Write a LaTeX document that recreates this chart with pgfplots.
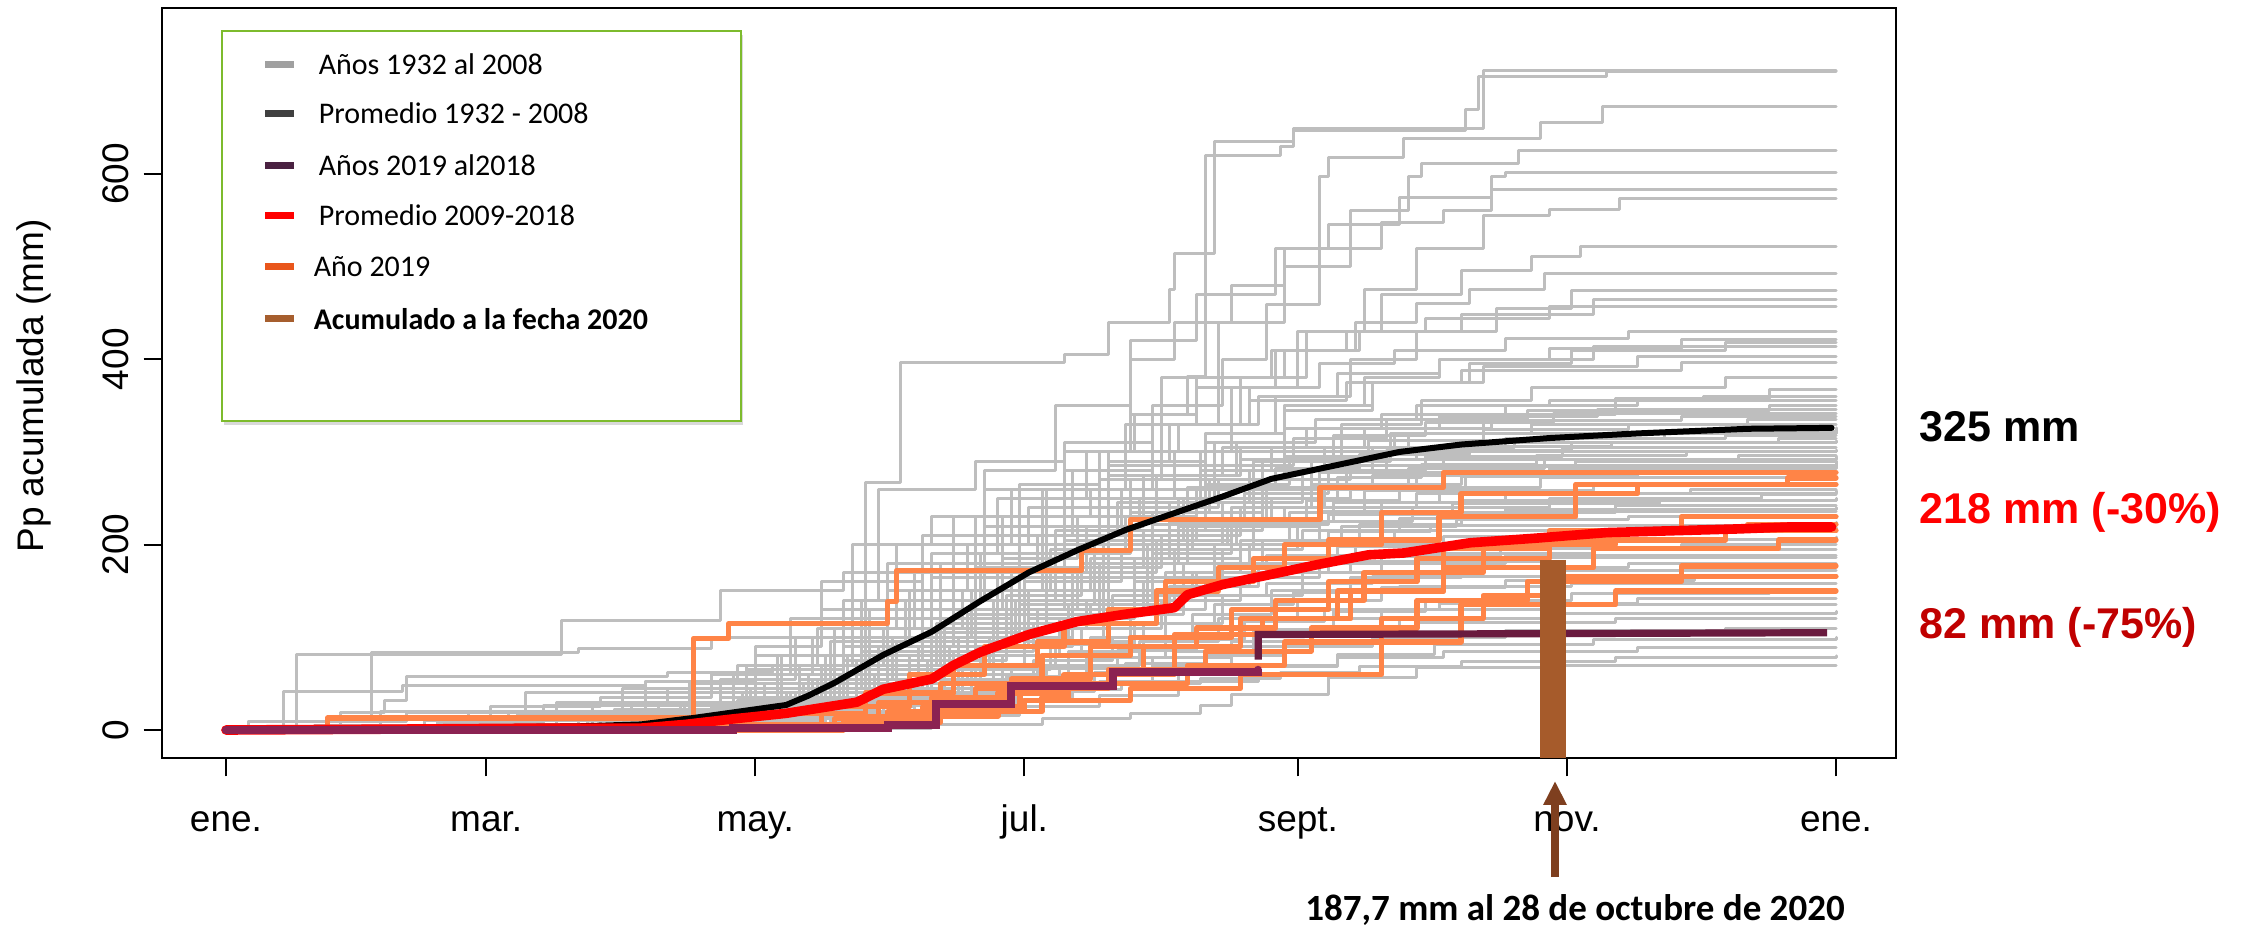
\documentclass[border=0pt]{standalone}
\usepackage{fontspec}
\setmainfont{Liberation Sans}
\newfontfamily\calibri{Carlito}
\usepackage{pgfplots}
\pgfplotsset{compat=1.18}
\usetikzlibrary{arrows.meta,shadows}

\definecolor{grisl}{HTML}{BEBEBE}
\definecolor{naranja}{HTML}{FF8447}
\definecolor{magenta2020}{HTML}{8B2252}
\definecolor{ciruela}{HTML}{6A1B3F}
\definecolor{barra}{HTML}{A65B2B}
\definecolor{flecha}{HTML}{7E3F1F}
\definecolor{verdeley}{HTML}{7DBB2D}
\definecolor{lgris}{HTML}{A0A0A0}
\definecolor{lnegro}{HTML}{404040}
\definecolor{lciruela}{HTML}{4A2141}
\definecolor{lnaranja}{HTML}{E9561B}
\definecolor{lcafe}{HTML}{A65E2E}
\definecolor{rojooscuro}{HTML}{C00000}

\pgfplotsset{
  gl/.style={const plot, color=grisl, line width=0.75pt, line join=round, line cap=round, forget plot},
  ol/.style={const plot, color=naranja, line width=1.3pt, line join=round, line cap=round, forget plot},
}

\begin{document}
\begin{tikzpicture}
\useasboundingbox (-40.5pt,-42.75pt) rectangle (523pt,189.5pt);
\begin{axis}[
  at={(0pt,0pt)}, anchor=south west,
  scale only axis, width=433.5pt, height=187.5pt,
  xmin=-14.5, xmax=378.6, ymin=-30.2, ymax=779,
  axis line style={line width=0.5pt},
  tick align=outside, tick pos=left,
  major tick length=4.6pt,
  every tick/.style={black, line width=0.5pt},
  xtick={0,59,120,181,243,304,365},
  xticklabels={ene.,mar.,may.,jul.,sept.,nov.,ene.},
  ytick={0,200,400,600},
  /pgf/number format/assume math mode=true,
  tick label style={font=\fontsize{9.25pt}{11pt}\selectfont},
  xticklabel style={anchor=base, yshift=-13.75pt},
  yticklabel style={xshift=-3.5pt, rotate=90, anchor=south, inner sep=0pt},
  ylabel={Pp acumulada (mm)},
  ylabel style={at={(axis description cs:-0.0738,0.496)}, anchor=center, font=\fontsize{9.25pt}{11pt}\selectfont},
]
% ---- años 1932 al 2008 (gris)
\addplot[gl] coordinates {(0,0)(90,8)(120,20)(145,267)(153,397)(190,405)(200,440)(214,475)(215,514)(224,635)(242,649)(285,712)(365,712)};
\addplot[gl] coordinates {(0,0)(100,10)(130,60)(150,150)(170,230)(190,300)(205,340)(218,381)(222,620)(239,630)(242,647)(281,669)(284,705)(313,710)(365,710)};
\addplot[gl] coordinates {(0,0)(100,5)(125,40)(140,90)(155,150)(165,200)(178,260)(190,300)(205,400)(215,440)(228,480)(240,520)(248,597)(250,618)(267,638)(298,656)(312,673)(365,673)};
\addplot[gl] coordinates {(0,0)(105,10)(130,45)(150,100)(165,180)(185,240)(200,300)(212,380)(225,440)(240,500)(255,560)(268,597)(271,611)(293,625)(365,625)};
\addplot[gl] coordinates {(0,0)(110,10)(135,60)(150,120)(160,180)(180,250)(195,300)(210,350)(226,400)(236,459)(248,520)(262,548)(276,560)(287,597)(290,601)(365,601)};
\addplot[gl] coordinates {(0,0)(95,20)(120,80)(140,130)(158,200)(172,280)(188,350)(205,420)(220,470)(238,520)(250,545)(266,575)(287,583)(365,583)};
\addplot[gl] coordinates {(0,0)(112,5)(140,40)(160,100)(175,170)(200,250)(215,300)(228,370)(243,430)(258,475)(270,520)(285,555)(300,562)(316,574)(365,574)};
\addplot[gl] coordinates {(0,0)(100,8)(128,40)(148,90)(165,150)(180,210)(198,270)(212,330)(230,380)(245,430)(262,470)(280,496)(296,511)(307,522)(365,522)};
\addplot[gl] coordinates {(0,0)(90,10)(118,50)(138,110)(156,170)(172,220)(190,280)(204,330)(220,370)(238,410)(256,440)(270,460)(282,475)(299,493)(365,493)};
\addplot[gl] coordinates {(0,0)(115,6)(138,30)(155,80)(170,140)(188,200)(205,260)(222,320)(238,360)(255,400)(270,430)(288,455)(305,474)(365,474)};
\addplot[gl] coordinates {(0,0)(108,12)(130,55)(146,120)(162,180)(176,230)(192,280)(210,330)(225,380)(240,410)(257,430)(280,448)(310,464)(365,464)};
\addplot[gl] coordinates {(0,0)(20,5)(60,12)(105,30)(125,70)(142,130)(160,190)(175,250)(190,300)(206,340)(220,380)(237,410)(254,430)(272,444)(300,457)(365,457)};
\addplot[gl] coordinates {(0,0)(35,20)(90,30)(115,60)(133,100)(150,150)(168,200)(182,240)(200,290)(214,330)(232,370)(248,395)(265,410)(290,422)(318,430)(365,430)};
\addplot[gl] coordinates {(0,0)(98,8)(122,40)(140,90)(155,140)(172,190)(186,230)(205,270)(222,310)(240,350)(258,380)(275,400)(300,412)(330,421)(365,421)};
\addplot[gl] coordinates {(0,0)(100,5)(132,30)(150,70)(162,120)(178,170)(195,220)(208,270)(224,310)(240,345)(260,375)(282,395)(305,410)(340,418)(365,418)};
\addplot[gl] coordinates {(0,0)(96,10)(119,35)(136,80)(142,200)(160,230)(180,265)(198,300)(216,330)(234,360)(252,385)(275,400)(310,414)(365,414)};
\addplot[gl] coordinates {(0,0)(110,5)(133,25)(150,60)(166,100)(182,150)(186,260)(204,290)(222,320)(240,350)(260,375)(285,392)(320,403)(365,403)};
\addplot[gl] coordinates {(0,0)(82,15)(106,40)(126,80)(140,140)(148,260)(170,290)(190,310)(210,330)(232,355)(254,375)(280,388)(330,397)(365,397)};
\addplot[gl] coordinates {(0,0)(103,8)(127,30)(145,65)(163,110)(181,160)(199,205)(217,250)(235,290)(253,330)(271,355)(296,370)(340,380)(365,380)};
\addplot[gl] coordinates {(0,0)(117,4)(139,20)(156,50)(174,90)(192,140)(210,190)(228,240)(246,290)(264,320)(285,340)(315,358)(350,367)(365,367)};
\addplot[gl] coordinates {(0,0)(102,6)(124,30)(141,80)(158,130)(176,185)(193,230)(211,275)(229,310)(247,335)(270,350)(300,356)(335,360)(365,360)};
\addplot[gl] coordinates {(0,0)(92,12)(117,40)(135,70)(150,150)(168,180)(186,220)(203,260)(221,300)(240,325)(262,340)(290,350)(320,355)(365,355)};
\addplot[gl] coordinates {(0,0)(108,4)(131,22)(147,55)(163,100)(179,140)(188,215)(207,250)(224,285)(242,315)(263,335)(295,345)(350,350)(365,350)};
\addplot[gl] coordinates {(0,0)(55,10)(97,18)(119,45)(137,95)(154,140)(171,190)(190,240)(208,275)(226,305)(245,325)(275,338)(311,346)(365,346)};
\addplot[gl] coordinates {(0,0)(113,8)(136,35)(152,60)(166,90)(184,130)(199,210)(216,250)(233,290)(251,318)(272,332)(301,342)(365,342)};
\addplot[gl] coordinates {(0,0)(99,5)(121,25)(139,60)(144,140)(165,170)(184,210)(202,245)(221,280)(237,305)(258,325)(287,334)(330,338)(365,338)};
\addplot[gl] coordinates {(0,0)(104,10)(127,35)(146,75)(161,115)(181,165)(197,205)(214,245)(232,280)(249,305)(268,320)(296,330)(345,335)(365,335)};
\addplot[gl] coordinates {(0,0)(70,15)(110,25)(133,55)(151,100)(169,150)(187,195)(205,235)(223,270)(240,295)(259,312)(285,324)(318,330)(365,330)};
\addplot[gl] coordinates {(0,0)(48,8)(72,26)(116,32)(138,50)(155,70)(173,100)(192,150)(209,200)(226,245)(244,280)(263,302)(290,315)(326,322)(365,322)};
\addplot[gl] coordinates {(0,0)(96,8)(118,28)(134,55)(152,95)(170,130)(190,175)(208,215)(222,265)(241,290)(260,305)(292,314)(340,318)(365,318)};
\addplot[gl] coordinates {(0,0)(106,5)(129,20)(148,50)(166,90)(182,135)(200,180)(218,220)(236,260)(254,285)(276,302)(305,310)(352,314)(365,314)};
\addplot[gl] coordinates {(0,0)(85,10)(112,35)(130,70)(149,110)(167,150)(185,190)(204,230)(220,260)(238,282)(257,297)(282,306)(314,310)(365,310)};
\addplot[gl] coordinates {(0,0)(62,14)(88,22)(110,30)(131,45)(150,60)(160,120)(178,150)(196,185)(214,225)(231,255)(250,280)(272,295)(303,305)(365,305)};
\addplot[gl] coordinates {(0,0)(101,9)(124,30)(143,70)(161,105)(180,140)(198,180)(216,220)(233,250)(252,272)(271,287)(297,296)(331,300)(365,300)};
\addplot[gl] coordinates {(0,0)(98,6)(121,25)(139,55)(157,90)(175,130)(193,170)(211,205)(228,240)(246,265)(268,282)(299,292)(343,296)(365,296)};
\addplot[gl] coordinates {(0,0)(45,12)(100,20)(126,40)(143,75)(161,110)(177,145)(194,180)(212,210)(230,240)(249,262)(270,278)(306,290)(365,290)};
\addplot[gl] coordinates {(0,0)(5,9)(33,84)(80,88)(110,100)(135,130)(160,165)(185,200)(210,235)(235,260)(260,275)(300,282)(365,287)};
\addplot[gl] coordinates {(0,0)(112,5)(134,20)(153,45)(171,80)(189,120)(206,160)(224,200)(241,235)(258,258)(281,274)(312,284)(365,284)};
\addplot[gl] coordinates {(0,0)(94,10)(116,30)(132,60)(150,95)(168,125)(186,160)(203,195)(219,225)(237,250)(255,265)(280,273)(320,278)(365,278)};
\addplot[gl] coordinates {(0,0)(107,4)(130,18)(149,40)(167,70)(174,140)(192,170)(210,200)(227,225)(245,248)(266,262)(298,272)(365,272)};
\addplot[gl] coordinates {(0,0)(80,18)(103,26)(125,45)(144,70)(162,100)(180,135)(197,165)(215,195)(233,225)(251,245)(275,258)(310,266)(365,266)};
\addplot[gl] coordinates {(0,0)(115,6)(137,25)(156,55)(174,90)(191,125)(208,160)(226,195)(243,225)(262,245)(290,255)(332,260)(365,260)};
\addplot[gl] coordinates {(0,0)(100,8)(122,22)(141,45)(159,75)(177,110)(195,140)(213,170)(230,200)(248,225)(269,240)(300,250)(348,254)(365,254)};
\addplot[gl] coordinates {(0,0)(90,14)(113,28)(131,50)(138,110)(158,130)(176,150)(194,175)(212,200)(229,220)(248,236)(278,244)(325,248)(365,248)};
\addplot[gl] coordinates {(0,0)(109,5)(132,18)(151,40)(169,65)(187,95)(205,130)(222,165)(240,200)(257,222)(280,235)(315,242)(365,242)};
\addplot[gl] coordinates {(0,0)(16,81)(76,118)(112,150)(140,170)(165,190)(190,205)(220,222)(250,232)(290,238)(365,240)};
\addplot[gl] coordinates {(0,0)(96,7)(119,24)(137,45)(155,70)(173,100)(191,135)(209,165)(226,195)(244,215)(266,228)(298,236)(365,236)};
\addplot[gl] coordinates {(0,0)(64,20)(104,27)(127,40)(146,60)(164,90)(182,120)(200,150)(217,180)(235,205)(253,220)(279,227)(318,230)(365,230)};
\addplot[gl] coordinates {(0,0)(118,5)(141,18)(160,40)(178,70)(196,100)(213,135)(215,180)(232,200)(250,214)(273,221)(365,224)};
\addplot[gl] coordinates {(0,0)(103,6)(126,20)(145,40)(163,65)(181,95)(199,125)(217,155)(234,180)(252,198)(276,209)(310,216)(365,216)};
\addplot[gl] coordinates {(0,0)(88,9)(111,22)(129,40)(147,60)(165,85)(183,115)(201,145)(219,170)(236,188)(256,200)(290,206)(365,208)};
\addplot[gl] coordinates {(0,0)(113,4)(136,15)(155,30)(173,55)(191,85)(208,115)(226,145)(244,170)(262,187)(289,196)(330,200)(365,200)};
\addplot[gl] coordinates {(0,0)(99,5)(122,18)(140,35)(158,55)(176,80)(194,110)(212,140)(230,165)(248,180)(272,190)(310,195)(365,195)};
\addplot[gl] coordinates {(0,0)(13,42)(40,48)(95,52)(120,60)(140,75)(160,95)(178,115)(196,135)(214,155)(232,170)(255,180)(290,188)(365,188)};
\addplot[gl] coordinates {(0,0)(105,5)(128,15)(147,30)(165,50)(183,75)(201,100)(219,125)(237,150)(255,165)(280,175)(318,180)(365,180)};
\addplot[gl] coordinates {(0,0)(26,19)(36,32)(41,58)(100,62)(124,70)(144,85)(163,100)(181,115)(199,130)(217,145)(236,158)(260,166)(300,172)(365,172)};
\addplot[gl] coordinates {(0,0)(111,4)(134,14)(153,28)(171,45)(189,70)(207,95)(225,120)(243,140)(262,154)(290,161)(333,165)(365,165)};
\addplot[gl] coordinates {(0,0)(93,8)(116,18)(134,32)(152,50)(170,70)(188,92)(206,115)(224,135)(242,148)(266,155)(305,158)(365,158)};
\addplot[gl] coordinates {(0,0)(119,3)(142,12)(161,25)(179,42)(197,62)(215,85)(233,108)(251,128)(272,140)(305,147)(350,150)(365,150)};
\addplot[gl] coordinates {(0,0)(100,6)(123,15)(141,26)(159,40)(177,58)(195,78)(213,98)(231,117)(249,130)(275,137)(320,142)(365,142)};
\addplot[gl] coordinates {(0,0)(5,9)(41,19)(107,22)(130,30)(148,40)(166,52)(184,68)(202,86)(220,104)(238,120)(262,130)(300,135)(365,135)};
\addplot[gl] coordinates {(0,0)(114,3)(137,10)(156,20)(174,33)(192,50)(210,70)(228,90)(246,108)(266,120)(300,126)(365,128)};
\addplot[gl] coordinates {(0,0)(97,5)(120,12)(138,20)(156,30)(174,44)(192,60)(210,78)(228,95)(246,108)(270,116)(315,120)(365,120)};
\addplot[gl] coordinates {(0,0)(57,6)(90,45)(131,50)(150,55)(168,60)(186,66)(204,72)(222,80)(240,90)(260,100)(290,107)(340,110)(365,110)};
\addplot[gl] coordinates {(0,0)(120,3)(143,9)(162,16)(180,25)(198,37)(216,52)(234,68)(252,82)(274,92)(310,98)(365,100)};
\addplot[gl] coordinates {(0,0)(66,18)(102,22)(125,27)(144,33)(162,38)(180,45)(198,52)(216,60)(234,70)(252,78)(276,85)(320,89)(365,89)};
\addplot[gl] coordinates {(0,0)(83,30)(125,32)(148,36)(167,40)(185,44)(203,50)(221,56)(239,62)(257,68)(280,74)(315,78)(365,80)};
\addplot[gl] coordinates {(0,0)(130,2)(160,6)(185,12)(205,18)(221,26)(228,38)(250,57)(270,67)(300,70)(365,70)};
\addplot[gl] coordinates {(0,0)(60,25)(85,35)(110,60)(128,120)(150,180)(165,230)(185,260)(210,285)(240,300)(280,310)(365,312)};
\addplot[gl] coordinates {(0,0)(75,30)(100,45)(120,90)(135,160)(158,210)(178,250)(200,275)(230,292)(270,300)(365,302)};
\addplot[gl] coordinates {(0,0)(50,15)(95,40)(118,65)(140,110)(152,200)(175,230)(196,260)(222,280)(260,292)(365,295)};
\addplot[gl] coordinates {(0,0)(85,20)(105,50)(125,80)(146,130)(165,170)(172,260)(200,285)(230,305)(265,320)(365,326)};
\addplot[gl] coordinates {(0,0)(45,10)(88,22)(112,45)(138,70)(160,105)(180,190)(205,215)(235,240)(270,255)(365,258)};
\addplot[gl] coordinates {(0,0)(68,40)(95,52)(116,70)(134,110)(156,150)(176,200)(198,240)(225,270)(255,285)(365,290)};
\addplot[gl] coordinates {(0,0)(100,15)(118,70)(140,100)(162,140)(170,210)(192,240)(218,262)(248,278)(290,284)(365,285)};
\addplot[gl] coordinates {(0,0)(80,12)(104,30)(130,55)(150,85)(168,110)(186,150)(206,185)(230,205)(265,215)(365,218)};
\addplot[gl] coordinates {(0,0)(92,30)(112,55)(129,100)(150,140)(170,175)(190,200)(210,222)(240,240)(280,248)(365,250)};
\addplot[gl] coordinates {(0,0)(55,20)(98,30)(122,50)(140,75)(158,100)(178,125)(198,150)(220,170)(250,182)(300,186)(365,186)};
% ---- años 2009 al 2018 (naranja)
\addplot[ol] coordinates {(0,0)(104,8)(106,99)(114,115)(150,139)(152,172)(194,194)(205,227)(248,262)(276,278)(365,278)};
\addplot[ol] coordinates {(0,0)(23,13)(120,18)(145,40)(165,70)(184,95)(200,130)(213,160)(233,185)(250,205)(275,230)(306,265)(354,272)(365,272)};
\addplot[ol] coordinates {(0,0)(110,5)(135,25)(155,60)(172,90)(190,115)(211,150)(225,175)(240,200)(262,235)(280,255)(320,265)(365,265)};
\addplot[ol] coordinates {(0,0)(120,4)(150,20)(170,45)(190,60)(215,103)(235,120)(255,150)(276,196)(300,215)(330,230)(365,230)};
\addplot[ol] coordinates {(0,0)(115,3)(140,15)(160,35)(178,55)(196,90)(220,110)(238,140)(258,170)(285,200)(315,215)(345,222)(365,222)};
\addplot[ol] coordinates {(0,0)(125,6)(148,30)(162,50)(185,80)(205,100)(228,130)(250,160)(270,185)(300,205)(340,215)(365,215)};
\addplot[ol] coordinates {(0,0)(130,4)(155,15)(175,40)(191,60)(208,90)(230,120)(252,150)(276,175)(310,196)(352,205)(365,205)};
\addplot[ol] coordinates {(0,0)(135,5)(158,25)(180,45)(200,65)(222,85)(246,110)(270,140)(295,160)(330,177)(365,177)};
\addplot[ol] coordinates {(0,0)(140,8)(162,20)(185,35)(191,50)(218,70)(240,95)(262,120)(285,145)(300,166)(365,166)};
\addplot[ol] coordinates {(0,0)(112,6)(138,12)(160,22)(181,32)(205,45)(230,60)(262,95)(280,135)(315,150)(365,150)};
% ---- promedio 1932-2008
\addplot[black, line width=1.5pt, line join=round, line cap=round, forget plot] coordinates {(0,0)(30,1)(60,3)(80,4)(94,6)(106,13)(115,19)(127,27)(132,37)(138,51)(149,81)(160,106)(171,139)(182,170)(193,194)(204,216)(215,234)(226,252)(237,271)(248,282)(259,293)(266,300)(280,308)(300,315)(320,320)(345,325)(364,326)};
% ---- promedio 2009-2018
\addplot[red, line width=2.4pt, line join=round, line cap=round, forget plot] coordinates {(0,0)(40,1)(70,2)(94,2)(104,6)(115,12)(127,18)(143,30)(149,44)(160,55)(165,70)(171,84)(182,103)(193,117)(204,125)(215,132)(218,146)(226,157)(237,168)(248,179)(259,189)(267,191)(282,202)(297,207)(313,213)(328,215)(343,217)(354,219)(364,219)};
% ---- 2019 / 2020
\addplot[const plot, magenta2020, line width=2pt, line cap=round, forget plot] coordinates {(0,0)(115,2)(150,5)(161,28)(178,48)(201,63)(234,65)};
\addplot[ciruela, line width=1.8pt, forget plot] coordinates {(234,76)(234,103)(300,104)(363,105)};
% ---- acumulado 2020
\addplot[draw=none, fill=barra, forget plot] coordinates {(298,-30.2)(298,183)(303.8,183)(303.8,-30.2)} -- cycle;
\end{axis}

% leyenda
\draw[draw=verdeley, line width=0.6pt, fill=white, drop shadow={shadow xshift=0.6pt, shadow yshift=-0.9pt, opacity=0.3}] (15pt,84.25pt) rectangle (144.75pt,181.75pt);
\foreach \yy/\cc in {173.4/lgris, 161.1/lnegro, 148.2/lciruela, 135.6/red, 122.9/lnaranja, 109.75/lcafe}
  \draw[\cc, line width=1.75pt] (25.75pt,\yy pt) -- (33pt,\yy pt);
\begin{scope}[every node/.style={anchor=west, inner sep=0pt, font=\calibri\fontsize{7.5pt}{9pt}\selectfont}]
\node at (39pt,173.4pt) {Años 1932 al 2008};
\node at (39pt,161.1pt) {Promedio 1932 - 2008};
\node at (39pt,148.2pt) {Años 2019 al2018};
\node at (39pt,135.6pt) {Promedio 2009-2018};
\node at (37.75pt,122.9pt) {Año 2019};
\node at (37.75pt,109.75pt) {\bfseries Acumulado a la fecha 2020};
\end{scope}

% anotaciones a la derecha
\node[anchor=west, inner sep=0pt, font=\bfseries\fontsize{10.75pt}{13pt}\selectfont] at (439.25pt,82.75pt) {325 mm};
\node[anchor=west, inner sep=0pt, text=red, font=\bfseries\fontsize{10.75pt}{13pt}\selectfont] at (439.25pt,61.5pt) {218 mm (-30\%)};
\node[anchor=west, inner sep=0pt, text=rojooscuro, font=\bfseries\fontsize{10.75pt}{13pt}\selectfont] at (439.25pt,32.75pt) {82 mm (-75\%)};

% flecha y texto inferior
\draw[flecha, line width=2pt, -{Triangle[width=5.5pt,length=6pt]}] (348.25pt,-29.75pt) -- (348.25pt,-5.75pt);
\node[anchor=base, inner sep=0pt, font=\calibri\bfseries\fontsize{9.25pt}{11pt}\selectfont] at (353.25pt,-40.5pt) {187,7 mm al 28 de octubre de 2020};
\end{tikzpicture}
\end{document}
